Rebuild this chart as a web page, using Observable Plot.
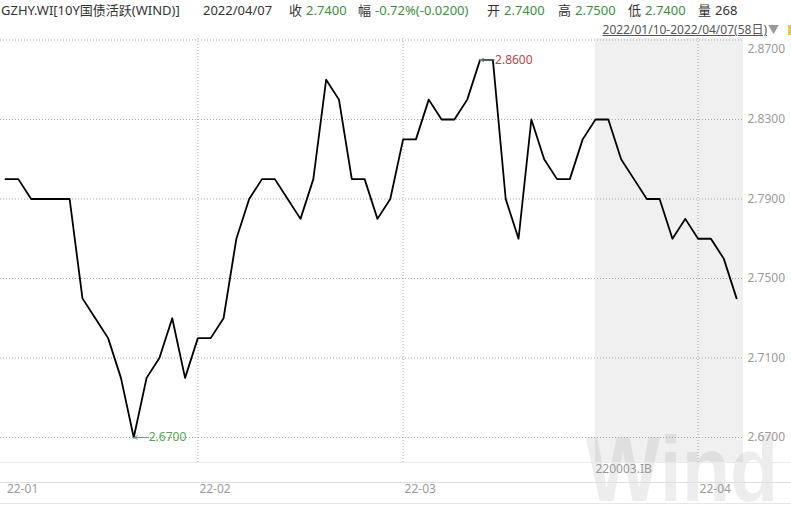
<!DOCTYPE html>
<html><head><meta charset="utf-8">
<script src="https://cdn.jsdelivr.net/npm/d3@7"></script>
<script src="https://cdn.jsdelivr.net/npm/@observablehq/plot@0.6"></script>
<style>
body{margin:0;background:#fff;font-family:"Noto Sans","Noto Sans CJK SC",sans-serif;}
#wrap{position:relative;width:791px;height:505px;overflow:hidden;}
#hdr{position:relative;height:38px;}
.s{position:absolute;white-space:nowrap;font-size:13px;color:#333;top:1px;line-height:18px;}
.g{color:#3d8f3d;}
#range{position:absolute;right:24px;top:21px;font-size:12px;color:#555;text-decoration:underline;line-height:18px;white-space:nowrap;}
#tri{position:absolute;left:768px;top:21px;font-size:11px;color:#999;line-height:18px;}
#ybar{position:absolute;left:788px;top:25px;width:3px;height:10px;background:#f2c24a;}
.hl{position:absolute;left:0;width:791px;height:1px;}
#chart svg{display:block;overflow:visible;}
</style></head><body>
<div id="wrap">
  <div id="hdr"></div>
  <div id="chart"></div>
  <div class="hl" style="top:462px;background:#ebebeb"></div>
  <div class="hl" style="top:482px;background:#dedede"></div>
  <div class="hl" style="top:503px;background:#e6e6e6"></div>
</div>
<script>
// ---- data ----
const dates = [
  "2022-01-10","2022-01-11","2022-01-12","2022-01-13","2022-01-14",
  "2022-01-17","2022-01-18","2022-01-19","2022-01-20","2022-01-21",
  "2022-01-24","2022-01-25","2022-01-26","2022-01-27","2022-01-28",
  "2022-02-07","2022-02-08","2022-02-09","2022-02-10","2022-02-11",
  "2022-02-14","2022-02-15","2022-02-16","2022-02-17","2022-02-18",
  "2022-02-21","2022-02-22","2022-02-23","2022-02-24","2022-02-25",
  "2022-02-28",
  "2022-03-01","2022-03-02","2022-03-03","2022-03-04",
  "2022-03-07","2022-03-08","2022-03-09","2022-03-10","2022-03-11",
  "2022-03-14","2022-03-15","2022-03-16","2022-03-17","2022-03-18",
  "2022-03-21","2022-03-22","2022-03-23","2022-03-24","2022-03-25",
  "2022-03-28","2022-03-29","2022-03-30","2022-03-31",
  "2022-04-01","2022-04-02","2022-04-06","2022-04-07"
];
const yields = [
  2.80,2.80,2.79,2.79,2.79,2.79,2.74,2.73,2.72,2.70,
  2.67,2.70,2.71,2.73,2.70,2.72,2.72,2.73,2.77,2.79,
  2.80,2.80,2.79,2.78,2.80,2.85,2.84,2.80,2.80,2.78,
  2.79,2.82,2.82,2.84,2.83,2.83,2.84,2.86,2.86,2.79,
  2.77,2.83,2.81,2.80,2.80,2.82,2.83,2.83,2.81,2.80,
  2.79,2.79,2.77,2.78,2.77,2.77,2.76,2.74
];
const yTicks = [2.67, 2.71, 2.75, 2.79, 2.83, 2.87];
const shadeStartDate = "2022-03-22";
const shadeLabel = "220003.IB";
const watermark = "Wind";
const headerLabels = ["GZHY.WI[10Y国债活跃(WIND)]","2022/04/07","收","幅","开","高","低","量"];
const headerValues = ["","","2.7400","-0.72%(-0.0200)","2.7400","2.7500","2.7400","268"];
const headerValueGreen = [false,false,true,true,true,true,true,false];
const rangeText = "2022/01/10-2022/04/07(58日)";

// ---- header layout ----
const headerX = [1,203,289,358,487,558,628,698];
const hdr = document.getElementById("hdr");
headerLabels.forEach((t,k)=>{
  const s = document.createElement("span");
  s.className = "s";
  s.style.left = headerX[k] + "px";
  s.textContent = t;
  if (headerValues[k]) {
    const v = document.createElement("span");
    if (headerValueGreen[k]) v.className = "g";
    v.style.marginLeft = "4px";
    v.textContent = headerValues[k];
    s.appendChild(v);
  }
  hdr.appendChild(s);
});
const r = document.createElement("span"); r.id="range"; r.textContent = rangeText; hdr.appendChild(r);
const tri = document.createElement("span"); tri.id="tri"; tri.textContent="▼"; hdr.appendChild(tri);
const yb = document.createElement("div"); yb.id="ybar"; hdr.appendChild(yb);

// ---- derived ----
const data = dates.map((d,i)=>({i, date:d, v:yields[i]}));
const monthStarts = data.filter((d,k)=>k===0 || d.date.slice(0,7)!==data[k-1].date.slice(0,7));
const vmin = d3.min(yields), vmax = d3.max(yields);
const minPt = data.find(d=>d.v===vmin), maxPt = data.find(d=>d.v===vmax);
const shadeIdx = dates.indexOf(shadeStartDate);
const xDom = [-0.39, dates.length - 1 + 0.54];
const arrowLen = 1.15;

const chart = Plot.plot({
  width: 791, height: 467,
  marginTop: 0, marginLeft: 0, marginRight: 48, marginBottom: 43,
  x: {type: "linear", domain: xDom, axis: null},
  y: {domain: [2.67, 2.87], range: [399, 1.5], axis: null},
  style: {fontFamily: "'Noto Sans', sans-serif", background: "transparent", overflow: "visible"},
  marks: [
    Plot.rect([{x1: shadeIdx, x2: xDom[1]}], {x1: "x1", x2: "x2", fill: "#f0f0f0"}),
    Plot.text([watermark], {text: d=>d, frameAnchor: "bottom-right", textAnchor: "end", lineAnchor: "bottom",
      dx: 35, dy: 38, fontSize: 92, fontWeight: "bold", fontFamily: "Liberation Sans, sans-serif",
      fill: "#000", fillOpacity: 0.07, className: "wm"}),
    Plot.ruleY(yTicks, {stroke: "#a8a8a8", strokeDasharray: "1,2"}),
    Plot.ruleX(monthStarts.slice(1), {x: "i", stroke: "#a8a8a8", strokeDasharray: "1,2"}),
    Plot.line(data, {x: "i", y: "v", stroke: "#000", strokeWidth: 1.8}),
    Plot.arrow([minPt, maxPt], {x1: d=>d.i + arrowLen, x2: "i", y1: "v", y2: "v",
      stroke: "#6f9590", strokeWidth: 1, headLength: 6, headAngle: 50}),
    Plot.text([minPt], {x: "i", y: "v", text: d=>d.v.toFixed(4), textAnchor: "start", dx: 15, fill: "#57a557", fontSize: 12}),
    Plot.text([maxPt], {x: "i", y: "v", text: d=>d.v.toFixed(4), textAnchor: "start", dx: 15, fill: "#b8484a", fontSize: 12}),
    Plot.text(yTicks.slice(0,-1), {y: d=>d, text: d=>d.toFixed(4), frameAnchor: "right", textAnchor: "start", dx: 4, fill: "#9a9a9a", fontSize: 12}),
    Plot.text(yTicks.slice(-1), {y: d=>d, text: d=>d.toFixed(4), frameAnchor: "right", textAnchor: "start", dx: 4, dy: 9.5, fill: "#9a9a9a", fontSize: 12}),
    Plot.text(monthStarts, {x: "i", text: d=>d.date.slice(2,7), frameAnchor: "bottom", textAnchor: "start", dx: 1.5, dy: 30, fill: "#9a9a9a", fontSize: 12}),
    Plot.text([shadeIdx], {x: d=>d, text: ()=>shadeLabel, frameAnchor: "bottom", textAnchor: "start", dy: 10, fill: "#999", fontSize: 12})
  ]
});
document.getElementById("chart").appendChild(chart);
d3.select(chart).selectAll("g.wm text").attr("textLength", 193).attr("lengthAdjust", "spacingAndGlyphs");
</script>
</body></html>
